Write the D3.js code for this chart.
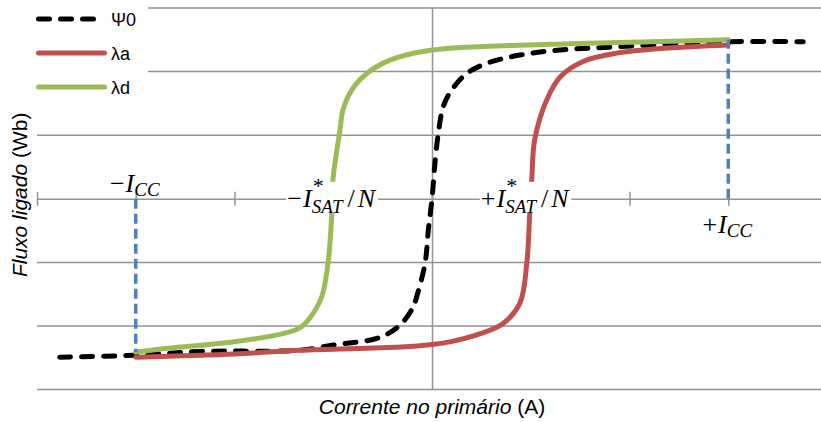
<!DOCTYPE html>
<html>
<head>
<meta charset="utf-8">
<script src="https://cdn.jsdelivr.net/npm/d3@7"></script>
<style>
  html, body { margin: 0; padding: 0; background: #fff; }
  svg { display: block; }
</style>
</head>
<body>
<div id="chart"></div>
<script>
// Ψ0 (curva sem histerese)
const psiX = [-3.77, -3.01, -2.35, -1.34, -1.00, -0.53, -0.32, -0.19, -0.155, -0.07, -0.037, 0, 0.03, 0.064, 0.114, 0.199, 0.351, 0.554, 0.891, 1.296, 1.87, 2.54, 3.0, 3.76];
const psiY = [-2.49, -2.46, -2.40, -2.38, -2.30, -2.18, -1.98, -1.70, -1.54, -1.01, -0.49, 0, 0.56, 1.03, 1.45, 1.71, 1.97, 2.13, 2.26, 2.34, 2.39, 2.445, 2.47, 2.47];

// λa (ramo ascendente)
const laX = [-3.0, -2.0, -1.34, -0.32, 0, 0.18, 0.49, 0.72, 0.89, 0.96, 0.99, 1.01, 1.04, 1.16, 1.30, 1.53, 1.87, 2.38, 3.0];
const laY = [-2.49, -2.44, -2.38, -2.33, -2.29, -2.25, -2.12, -1.96, -1.64, -1.01, -0.22, 0.30, 0.93, 1.55, 1.92, 2.16, 2.29, 2.37, 2.42];

// λd (ramo descendente)
const ldX = [-3.0, -2.68, -2.02, -1.51, -1.34, -1.235, -1.117, -1.053, -1.016, -1.003, -0.932, -0.901, -0.813, -0.661, -0.425, 0, 1.195, 2.208, 3.0];
const ldY = [-2.41, -2.35, -2.25, -2.12, -2.03, -1.87, -1.54, -1.01, -0.28, 0.30, 1.08, 1.40, 1.71, 1.97, 2.18, 2.34, 2.43, 2.47, 2.50];

// linhas tracejadas azuis em ±Icc
const iccX = [-3, 3];
const iccY = [-2.41, 2.50];

// eixos
const xTicks = [-4, -3, -2, -1, 0, 1, 2, 3, 4];
const yGrid = [-3, -2, -1, 1, 2, 3];
const labelVals = [-3, -1, 1, 3];
const labelSign = ["\u2212", "\u2212", "+", "+"];
const labelSub = ["CC", "SAT", "SAT", "CC"];

const seriesNames = ["\u03A80", "\u03BBa", "\u03BBd"];
const seriesColors = ["#000000", "#C0504D", "#9BBB59"];

const W = 821, H = 422;
const svg = d3.select("#chart").append("svg").attr("width", W).attr("height", H);

const x = d3.scaleLinear().domain([-4, 4]).range([37, 827]);
const y = d3.scaleLinear().domain([-3, 3]).range([389.6, 8]);

const gridColor = "#939393";

// linhas de grade
svg.append("g").selectAll("line")
    .data(yGrid)
    .enter()
    .append("line")
    .attr("x1", x(-4)).attr("x2", x(4))
    .attr("y1", d => y(d)).attr("y2", d => y(d))
    .attr("stroke", gridColor).attr("stroke-width", 1.5);

// eixo vertical
const yAxis = svg.append("g")
    .attr("transform", `translate(${x(0)},0)`)
    .call(d3.axisLeft(y).tickValues([]).tickSizeOuter(0));
yAxis.select(".domain").attr("stroke", gridColor).attr("stroke-width", 1.5);

// eixo horizontal com marcas cruzadas
const xAxis = svg.append("g")
    .attr("transform", `translate(0,${y(0)})`)
    .call(d3.axisBottom(x).tickValues(xTicks).tickSize(7).tickSizeOuter(0).tickFormat(""));
xAxis.select(".domain").attr("stroke", gridColor).attr("stroke-width", 1.5);
xAxis.selectAll(".tick line").attr("y1", -7).attr("stroke", gridColor).attr("stroke-width", 1.5);

// séries
const line = d3.line()
    .x(d => x(d[0]))
    .y(d => y(d[1]))
    .curve(d3.curveCatmullRom.alpha(0.5));

const series = [
    d3.zip(psiX, psiY),
    d3.zip(laX, laY),
    d3.zip(ldX, ldY)
];

series.forEach((pts, i) => {
    svg.append("path")
        .datum(pts)
        .attr("fill", "none")
        .attr("stroke", seriesColors[i])
        .attr("stroke-width", 5)
        .attr("stroke-linecap", "round")
        .attr("stroke-linejoin", "round")
        .attr("stroke-dasharray", i === 0 ? "11,11" : null)
        .attr("d", line);
});

// linhas azuis
svg.append("g").selectAll("line")
    .data(d3.zip(iccX, iccY))
    .enter()
    .append("line")
    .attr("x1", d => x(d[0])).attr("x2", d => x(d[0]))
    .attr("y1", y(0)).attr("y2", d => y(d[1]))
    .attr("stroke", "#4F81BD")
    .attr("stroke-width", 3.5)
    .attr("stroke-dasharray", "10,5");

// rótulos matemáticos
const mathFont = "'Liberation Serif', 'DejaVu Serif', serif";
labelVals.forEach((v, i) => {
    const isSat = labelSub[i] === "SAT";
    let base, cx;
    if (isSat) {
        base = y(0) + 8;
        cx = x(v) + (v < 0 ? -2 : -6);
    } else {
        base = v < 0 ? y(0) - 7 : y(0) + 34;
        cx = x(v) - 1;
    }
    const g = svg.append("g");
    const t = g.append("text")
        .attr("x", cx).attr("y", base)
        .attr("text-anchor", "middle")
        .attr("font-family", mathFont)
        .attr("font-size", 26)
        .attr("fill", "#000");
    t.append("tspan").text(labelSign[i]);
    t.append("tspan").attr("font-style", "italic").attr("dx", 1).text("I");
    if (isSat) {
        const star = t.append("tspan").attr("font-size", 22).attr("dy", -14).attr("dx", 1).text("*");
        const sw = star.node().getComputedTextLength();
        t.append("tspan").attr("font-style", "italic").attr("font-size", 19)
            .attr("dx", -sw - 1).attr("dy", 20).text("SAT");
        t.append("tspan").attr("dy", -6).attr("dx", 5).text("/");
        t.append("tspan").attr("font-style", "italic").attr("dx", 3).text("N");
        const bb = t.node().getBBox();
        g.insert("rect", "text")
            .attr("x", bb.x - 1).attr("width", bb.width + 2)
            .attr("y", base - 25).attr("height", 31)
            .attr("fill", "#fff");
    } else {
        t.append("tspan").attr("font-style", "italic").attr("font-size", 19)
            .attr("dy", 4).text(labelSub[i]);
    }
});

// legenda
svg.append("rect").attr("x", 0).attr("y", 0).attr("width", 148).attr("height", 104).attr("fill", "#fff");
const legendY = [19, 53, 87];
seriesNames.forEach((name, i) => {
    const dashed = i === 0;
    svg.append("line")
        .attr("x1", 38.5).attr("x2", dashed ? 94.5 : 104.5)
        .attr("y1", legendY[i]).attr("y2", legendY[i])
        .attr("stroke", seriesColors[i])
        .attr("stroke-width", 5)
        .attr("stroke-linecap", "round")
        .attr("stroke-dasharray", dashed ? "11,11" : null);
    svg.append("text")
        .attr("x", 111).attr("y", legendY[i] + 7)
        .attr("font-family", "'Liberation Sans', Arial, sans-serif")
        .attr("font-size", 18)
        .attr("fill", "#000")
        .text(name);
});

// títulos dos eixos
const xt = svg.append("text")
    .attr("x", x(0)).attr("y", 414)
    .attr("text-anchor", "middle")
    .attr("font-family", "'Liberation Sans', Arial, sans-serif")
    .attr("font-size", 21)
    .attr("fill", "#000");
xt.append("tspan").attr("font-style", "italic").text("Corrente no primário ");
xt.append("tspan").text("(A)");

const yt = svg.append("text")
    .attr("transform", `translate(27,${y(0) - 4}) rotate(-90)`)
    .attr("text-anchor", "middle")
    .attr("font-family", "'Liberation Sans', Arial, sans-serif")
    .attr("font-size", 21)
    .attr("fill", "#000");
yt.append("tspan").attr("font-style", "italic").text("Fluxo ligado ");
yt.append("tspan").text("(Wb)");
</script>
</body>
</html>
